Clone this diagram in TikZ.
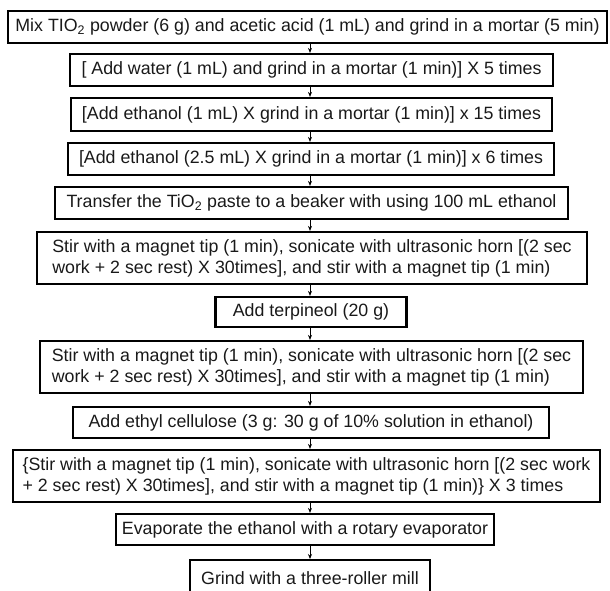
\documentclass[tikz,border=0pt]{standalone}
\usepackage{fontspec}
\setmainfont{Liberation Sans}
\usetikzlibrary{arrows.meta}
\tikzset{
  stepbox/.style={draw=black, line width=2.2pt, inner sep=0pt, align=left,
    font=\fontsize{17.8}{21}\selectfont, text=black!90},
  arr/.style={line width=0.8pt, -{Stealth[length=5pt,width=4pt]}}
}
\newcommand{\TiOsub}{\textsubscript{2}}
\begin{document}
\begin{tikzpicture}[x=1pt,y=-1pt]
\useasboundingbox (0,0) rectangle (610,590);
\clip (0,0) rectangle (610,590);
\node[stepbox, minimum width=599pt, minimum height=32pt] (b1) at (307.5,27)
  {Mix TIO\TiOsub{} powder (6 g) and acetic acid (1 mL) and grind in a mortar (5 min)};
\node[stepbox, minimum width=483pt, minimum height=32pt] (b2) at (311.5,70)
  {[ Add water (1 mL) and grind in a mortar (1 min)] X 5 times};
\node[stepbox, minimum width=481pt, minimum height=33pt] (b3) at (311.5,114.5)
  {[Add ethanol (1 mL) X grind in a mortar (1 min)] x 15 times};
\node[stepbox, minimum width=486pt, minimum height=32pt] (b4) at (311,159)
  {[Add ethanol (2.5 mL) X grind in a mortar (1 min)] x 6 times};
\node[stepbox, minimum width=513pt, minimum height=32pt] (b5) at (311.5,203)
  {Transfer the TiO\TiOsub{} paste to a beaker with using 100 mL ethanol};
\node[stepbox, minimum width=550pt, minimum height=52pt] (b6) at (312,258)
  {Stir with a magnet tip (1 min), sonicate with ultrasonic horn [(2 sec\\work + 2 sec rest) X 30times], and stir with a magnet tip (1 min)};
\node[stepbox, minimum width=191pt, minimum height=30pt] (b7) at (311,312)
  {Add terpineol (20 g)};
\node[stepbox, minimum width=543pt, minimum height=52pt] (b8) at (311.5,367)
  {Stir with a magnet tip (1 min), sonicate with ultrasonic horn [(2 sec\\work + 2 sec rest) X 30times], and stir with a magnet tip (1 min)};
\node[stepbox, minimum width=476pt, minimum height=31pt] (b9) at (311,422.5)
  {Add ethyl cellulose (3 g: 30 g of 10\% solution in ethanol)};
\node[stepbox, minimum width=587pt, minimum height=52pt] (b10) at (306.5,476)
  {\{Stir with a magnet tip (1 min), sonicate with ultrasonic horn [(2 sec work\\+ 2 sec rest) X 30times], and stir with a magnet tip (1 min)\} X 3 times};
\node[stepbox, minimum width=378pt, minimum height=31pt] (b11) at (305,529.5)
  {Evaporate the ethanol with a rotary evaporator};
\node[stepbox, minimum width=240pt, minimum height=36pt, anchor=north] (b12) at (310,559)
  {Grind with a three-roller mill};
\coordinate (ax) at (310,0);
\foreach \a/\b in {b1/b2,b2/b3,b3/b4,b4/b5,b5/b6,b6/b7,b7/b8,b8/b9,b9/b10,b10/b11,b11/b12}
  \draw[arr] (\a.south -| ax) -- (\b.north -| ax);
\end{tikzpicture}
\end{document}
